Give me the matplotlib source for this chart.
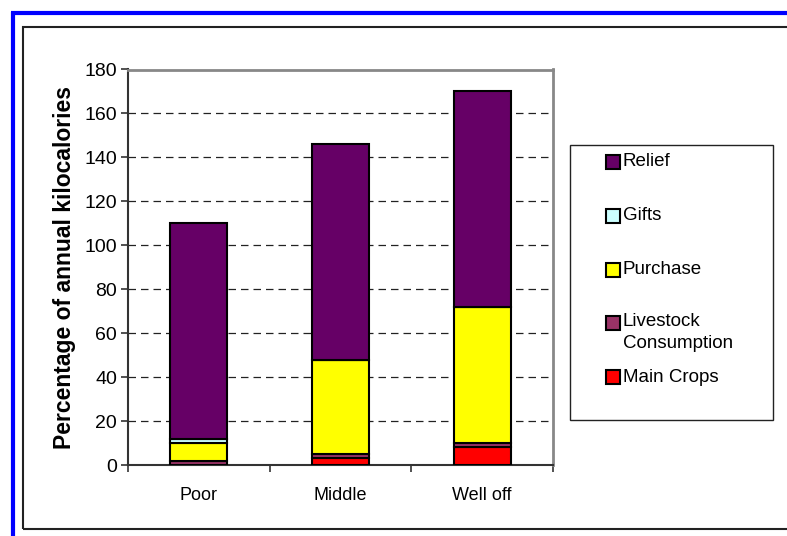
import matplotlib
matplotlib.use("Agg")
import matplotlib.pyplot as plt
from matplotlib.patches import Rectangle
from matplotlib.lines import Line2D

plt.rcParams['font.family'] = ['Liberation Sans', 'DejaVu Sans']

categories = ["Poor", "Middle", "Well off"]
main_crops = [0, 3, 8]
livestock = [2, 2, 2]
purchase = [8, 43, 62]
gifts = [2, 0, 0]
relief = [98, 98, 98]

series = [
    ("Main Crops", main_crops, "#FF0000"),
    ("Livestock\nConsumption", livestock, "#993366"),
    ("Purchase", purchase, "#FFFF00"),
    ("Gifts", gifts, "#CCFFFF"),
    ("Relief", relief, "#660066"),
]

W, H = 787, 536
fig = plt.figure(figsize=(W / 100, H / 100), dpi=100)


def fx(px):
    return px / W


def fy(py):
    return 1 - py / H


# outer frame lines (blue) and chart-area border (black)
fig.add_artist(Line2D([fx(11), 1], [fy(13), fy(13)], color="#0000FF", lw=3,
                      solid_capstyle="butt"))
fig.add_artist(Line2D([fx(12.5), fx(12.5)], [0, fy(11.5)], color="#0000FF", lw=3,
                      solid_capstyle="butt"))
fig.add_artist(Rectangle((fx(23), fy(529)), 1.0, fy(26.5) - fy(529),
                         fill=False, ec="#222222", lw=1.5, transform=fig.transFigure))

ax = fig.add_axes([fx(128), fy(465), fx(553) - fx(128), fy(69.5) - fy(465)])

x = list(range(len(categories)))
bottom = [0] * len(categories)
for label, vals, color in series:
    ax.bar(x, vals, width=0.4, bottom=bottom, color=color,
           edgecolor="black", linewidth=1.5, zorder=3)
    bottom = [b + v for b, v in zip(bottom, vals)]

ax.set_xlim(-0.5, len(categories) - 0.5)
ax.set_ylim(0, 180)
ax.set_yticks(range(0, 181, 20))
ax.yaxis.grid(True, linestyle=(0, (6, 4)), color="#222222", linewidth=0.9, zorder=1)

ax.set_xticks([i - 0.5 for i in range(len(categories) + 1)])
ax.set_xticklabels([])
ax.set_xticks(x, minor=True)
ax.set_xticklabels(categories, minor=True, fontsize=13)
ax.tick_params(axis="x", which="minor", length=0, pad=16)
ax.tick_params(axis="x", which="major", length=5, width=1.2, color="#333333")
ax.tick_params(axis="y", length=5, width=1.2, color="#333333", labelsize=14, pad=3)

for s in ["top", "right"]:
    ax.spines[s].set_color("#888888")
    ax.spines[s].set_linewidth(2)
for s in ["left", "bottom"]:
    ax.spines[s].set_color("#333333")
    ax.spines[s].set_linewidth(1.5)

ax.set_ylabel("Percentage of annual kilocalories", fontsize=16.5, fontweight="bold", labelpad=6)

# legend, drawn in figure space like the spreadsheet one
fig.add_artist(Rectangle((fx(570), fy(420)), fx(773) - fx(570), fy(145) - fy(420),
                         fill=False, ec="#222222", lw=1, transform=fig.transFigure))
legend_rows = [162, 216, 270, 323, 377]
for (label, vals, color), row in zip(reversed(series), legend_rows):
    fig.add_artist(Rectangle((fx(606), fy(row + 7)), fx(14), fy(0) - fy(14),
                             fc=color, ec="black", lw=1.5, transform=fig.transFigure))
    if "\n" in label:
        fig.text(fx(623), fy(row - 10), label, fontsize=13.5, va="top", linespacing=1.4)
    else:
        fig.text(fx(623), fy(row), label, fontsize=13.5, va="center")

fig.savefig("out.png", dpi=100)
